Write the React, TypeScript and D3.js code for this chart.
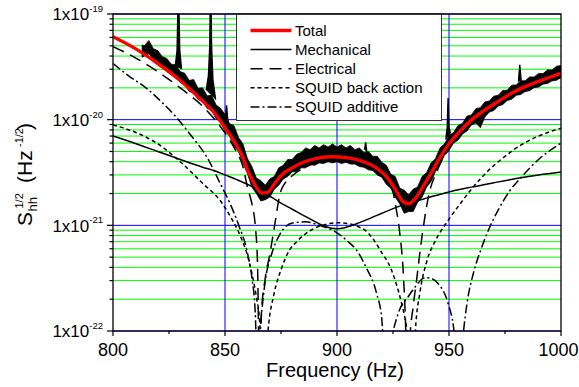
import React from "react";
import * as d3 from "d3";

const FONT = "'Liberation Sans', Arial, Helvetica, sans-serif";
const UNIT = 1e-21; // all values below are in units of 1e-21 Hz^-1/2

// Total (fit)
const totalF = [800, 810, 820, 830, 840, 845, 850, 855, 858, 860, 862, 864, 866.5, 869, 872, 875.3, 880, 885, 890, 897, 905, 912, 918, 922, 926, 929, 932, 935, 938, 940, 942, 944, 946, 948, 950, 955, 960, 970, 980, 990, 1000];
const totalV = [61, 47, 34, 23.5, 15, 11.8, 8.4, 5.8, 4.4, 3.35, 2.75, 2.3, 2.02, 2.05, 2.45, 3.0, 3.5, 3.95, 4.25, 4.45, 4.35, 4.0, 3.45, 2.9, 2.2, 1.72, 1.6, 1.8, 2.25, 2.65, 3.1, 3.7, 4.4, 5.1, 5.9, 7.8, 9.9, 14, 18.8, 23, 27.5];

// Mechanical
const mechF = [800, 810, 820, 830, 840, 846, 850, 855, 860, 865, 868, 872, 876, 880, 885, 890, 894, 897, 900, 903, 906, 910, 915, 920, 925, 930, 935, 940, 950, 960, 970, 980, 990, 1000];
const mechV = [7.0, 5.95, 5.0, 4.2, 3.55, 3.25, 3.0, 2.72, 2.45, 2.17, 2.0, 1.78, 1.58, 1.42, 1.24, 1.09, 0.99, 0.945, 0.93, 0.945, 0.985, 1.06, 1.17, 1.3, 1.44, 1.57, 1.69, 1.81, 2.07, 2.3, 2.53, 2.77, 3.0, 3.2];

// Electrical
const elecF = [800, 810, 820, 830, 840, 845, 850, 855, 858, 860, 862, 863.5, 864.5, 865.3, 866.2, 868, 870, 872, 874.6, 877, 880, 885, 890, 895, 900, 905, 910, 915, 920, 924, 926, 928, 929.5, 930.7, 931.5, 932.5, 934, 935.5, 937, 938.5, 940.8, 945, 950, 955, 960, 970, 980, 990, 1000];
const elecV = [49, 38.5, 28.5, 20, 13.4, 10.3, 7.5, 5.0, 3.6, 2.3, 1.6, 1.0, 0.45, 0.05, 0.14, 0.32, 0.53, 0.95, 2.0, 2.55, 2.95, 3.5, 3.87, 4.05, 4.12, 4.05, 3.85, 3.5, 3.0, 2.5, 1.6, 0.85, 0.38, 0.1, 0.02, 0.08, 0.17, 0.3, 0.55, 0.95, 1.86, 3.4, 5.4, 7.4, 9.3, 13.1, 17.6, 21.3, 25.2];

// SQUID back action
const baF = [800, 810, 820, 830, 840, 848, 853, 857, 860, 862, 864, 865.5, 867, 869.2, 872, 875, 878.7, 882, 886.2, 890, 895, 900, 905, 910, 912.5, 916, 920, 922.9, 926, 928.9, 931, 932.5, 933.7, 935, 937, 940, 944, 949.7, 955, 960, 967.6, 975, 983, 990, 1000];
const baV = [8.9, 7.6, 5.9, 4.0, 2.5, 1.7, 1.15, 0.78, 0.52, 0.35, 0.21, 0.12, 0.02, 0.1, 0.23, 0.38, 0.58, 0.7, 0.84, 0.94, 1.02, 1.06, 1.04, 0.96, 0.9, 0.75, 0.55, 0.44, 0.3, 0.18, 0.11, 0.06, 0.02, 0.1, 0.23, 0.45, 0.72, 1.12, 1.6, 2.2, 3.3, 4.5, 5.9, 7.0, 8.3];

// SQUID additive
const addF = [800, 807, 815, 822, 828, 835, 842, 848, 852, 856, 860, 862, 863.5, 864.5, 866, 868, 871, 874.6, 880, 886, 892, 900, 905, 908.8, 913, 917.7, 920, 921.5, 923, 925, 928, 931.7, 934.8, 939.3, 942, 945.2, 949.7, 952, 954.5, 956.5, 958, 961, 964, 967.6, 972, 977, 982.4, 990, 1000];
const addV = [34, 26, 19.8, 14.5, 10.7, 7.0, 4.4, 2.45, 1.65, 1.02, 0.55, 0.32, 0.15, 0.04, 0.12, 0.3, 0.55, 0.83, 1.05, 1.08, 1.0, 0.85, 0.7, 0.58, 0.4, 0.226, 0.13, 0.04, 0.07, 0.1, 0.16, 0.21, 0.26, 0.32, 0.315, 0.28, 0.18, 0.11, 0.03, 0.1, 0.18, 0.36, 0.57, 0.9, 1.4, 2.1, 2.88, 4.2, 6.0];

// Measured spectrum: upper / lower envelope of the noisy trace
const measF = [813, 814, 816, 818, 820, 822, 824, 826, 828, 830, 832, 834, 836, 838, 840, 842, 844, 846, 848, 850, 852, 854, 856, 858, 860, 862, 864, 866, 868, 870, 872, 874, 876, 878, 880, 882, 884, 886, 888, 890, 892, 894, 896, 898, 900, 902, 904, 906, 908, 910, 912, 914, 916, 918, 920, 922, 924, 926, 928, 930, 932, 934, 936, 938, 940, 942, 944, 946, 948, 950, 952, 954, 956, 958, 960, 962, 964, 966, 968, 970, 972, 974, 976, 978, 980, 982, 984, 986, 988, 990, 992, 994, 996, 998, 1000];
const measHi = [51, 50, 56, 47, 45, 39.5, 38, 33.5, 33, 28.5, 27.5, 23.5, 24, 19.8, 20, 16.8, 17, 13.8, 12.8, 11.2, 9.2, 8.8, 6.8, 5.9, 4.3, 3.6, 2.8, 2.65, 2.4, 2.75, 2.9, 3.5, 3.7, 4.2, 4.2, 4.7, 4.9, 5.4, 5.2, 5.7, 5.4, 5.8, 5.5, 5.9, 5.5, 5.8, 5.4, 5.7, 5.2, 5.4, 4.9, 5.0, 4.5, 4.5, 3.95, 3.7, 3.05, 2.9, 2.25, 2.15, 1.95, 2.2, 2.3, 2.9, 3.15, 3.9, 4.3, 5.4, 5.9, 7.1, 7.5, 8.8, 9.2, 10.8, 11.1, 12.7, 13, 14.7, 15, 16.7, 17, 18.9, 19, 21.2, 21.3, 23.4, 23.3, 25.4, 25.3, 27.4, 27.3, 29.6, 29.5, 32, 32.5];
const measLo = [39, 40, 42, 38, 35.5, 31, 30.5, 26.5, 25.5, 22.5, 21.5, 18.5, 18, 15.5, 15, 12.8, 12.3, 10.2, 9.5, 7.8, 7.0, 5.7, 5.0, 3.9, 3.1, 2.3, 2.0, 1.7, 1.75, 1.85, 2.2, 2.4, 2.75, 2.9, 3.2, 3.25, 3.5, 3.5, 3.75, 3.7, 3.9, 3.85, 4.0, 3.9, 4.0, 3.85, 3.95, 3.8, 3.8, 3.6, 3.55, 3.35, 3.3, 3.0, 2.85, 2.45, 2.25, 1.85, 1.6, 1.3, 1.35, 1.35, 1.65, 1.85, 2.3, 2.6, 3.25, 3.8, 4.6, 5.1, 6.0, 6.4, 7.3, 7.8, 8.9, 9.3, 8.4, 10.6, 11.8, 12.2, 13.5, 13.9, 15.2, 15.6, 17, 17.3, 18.5, 18.8, 20.1, 20.4, 21.7, 22, 23.3, 23.6, 25];

// Narrow lines (spikes) in the measured spectrum: [frequency, value]
const spike829: [number, number][] = [[827.8, 32], [828.6, 45], [829.0, 120], [829.2, 300], [829.4, 120], [829.8, 45], [830.6, 30]];
const spike844: [number, number][] = [[841.6, 19], [842.6, 26], [843.2, 50], [843.6, 300], [844.0, 50], [844.6, 24], [845.8, 15.5]];
const spike851: [number, number][] = [[850.1, 10.5], [850.7, 13.7], [851.3, 9.5]];
const spike913: [number, number][] = [[912.3, 5.2], [912.8, 6.1], [913.3, 5.0]];
const spike950: [number, number][] = [[948.6, 6.5], [949.2, 8.5], [949.6, 16], [950.0, 8.5], [950.6, 7.4]];
const spike982: [number, number][] = [[981.0, 23], [981.6, 33], [982.2, 23.5]];
const spikes = [spike829, spike844, spike851, spike913, spike950, spike982];

const xTicks = [800, 850, 900, 950, 1000];
const xMinor = [825, 875, 925, 975];
const yDecades = [-19, -20, -21, -22];

const legendLabels = ["Total", "Mechanical", "Electrical", "SQUID back action", "SQUID additive"];

export default function App() {
  const W = 579, H = 387;
  const L = 113, R = 561, T = 14, B = 331;
  const x = d3.scaleLinear().domain([800, 1000]).range([L, R]);
  const y = d3.scaleLog().domain([1e-22, 1e-19]).range([B, T]);

  const mk = (fs: number[], vs: number[]) =>
    d3.line<number>().x((_, i) => x(fs[i])).y((v) => y(v * UNIT)).curve(d3.curveMonotoneX)(vs) || "";

  const area = d3
    .area<number>()
    .x((_, i) => x(measF[i]))
    .y0((_, i) => y(measLo[i] * UNIT))
    .y1((v) => y(v * UNIT))(measHi) || "";

  const spikeLine = d3.line<[number, number]>().x((d) => x(d[0])).y((d) => y(d[1] * UNIT));

  const yTicks = y.ticks();
  const isDecade = (t: number) => Math.abs(Math.log10(t) - Math.round(Math.log10(t))) < 1e-6;

  const series = [
    { label: legendLabels[0], color: "#ff0000", width: 3.4, dash: "" },
    { label: legendLabels[1], color: "#000", width: 1.5, dash: "" },
    { label: legendLabels[2], color: "#000", width: 1.5, dash: "12,7" },
    { label: legendLabels[3], color: "#000", width: 1.5, dash: "4,3" },
    { label: legendLabels[4], color: "#000", width: 1.5, dash: "9,3,2,3" },
  ];

  const legX = 236.5, legY = 14, legW = 205, legH = 106.5;

  return (
    <div style={{ position: "absolute", left: 0, top: 0 }}>
      <svg width={W} height={H} style={{ display: "block", background: "#fff" }} fontFamily={FONT}>
        <defs>
          <clipPath id="plotClip">
            <rect x={L} y={T} width={R - L} height={B - T} />
          </clipPath>
        </defs>
        <rect x={0} y={0} width={W} height={H} fill="#fff" />

        {/* grid */}
        <g>
          {yTicks.filter((t) => !isDecade(t)).map((t, i) => (
            <line key={"g" + i} x1={L} x2={R} y1={y(t)} y2={y(t)} stroke="#00ff00" strokeWidth={1} />
          ))}
          {yTicks.filter((t) => isDecade(t)).map((t, i) => (
            <line key={"b" + i} x1={L} x2={R} y1={y(t)} y2={y(t)} stroke="#0000ff" strokeWidth={1} />
          ))}
          {xTicks.slice(1, -1).map((t) => (
            <line key={"v" + t} x1={x(t)} x2={x(t)} y1={T} y2={B} stroke="#0000ff" strokeWidth={1} />
          ))}
        </g>

        {/* curves */}
        <g clipPath="url(#plotClip)" fill="none">
          <path d={mk(mechF, mechV)} stroke="#000" strokeWidth={1.5} />
          <path d={mk(elecF, elecV)} stroke="#000" strokeWidth={1.5} strokeDasharray="12,7" />
          <path d={mk(baF, baV)} stroke="#000" strokeWidth={1.5} strokeDasharray="4,3" />
          <path d={mk(addF, addV)} stroke="#000" strokeWidth={1.5} strokeDasharray="9,3,2,3" />
          <path d={area} fill="#000" stroke="#000" strokeWidth={0.8} />
          {spikes.map((s, i) => (
            <path key={"s" + i} d={spikeLine(s) || ""} fill="#000" stroke="#000" strokeWidth={1.4} />
          ))}
          <path d={mk(totalF, totalV)} stroke="#ff0000" strokeWidth={3.4} />
        </g>

        {/* legend */}
        <g>
          <rect x={legX} y={legY} width={legW} height={legH} fill="#fff" stroke="#333" strokeWidth={1} />
          {series.map((s, i) => {
            const base = 35.7 + i * 19.1;
            return (
              <g key={"l" + i}>
                <line x1={250.5} x2={291.5} y1={base - 5.2} y2={base - 5.2} stroke={s.color} strokeWidth={s.width} strokeDasharray={s.dash || undefined} />
                <text x={295} y={base} fontSize={15} fill="#000">{s.label}</text>
              </g>
            );
          })}
        </g>

        {/* frame */}
        <rect x={L} y={T} width={R - L} height={B - T} fill="none" stroke="#000" strokeWidth={1.3} />

        {/* y ticks */}
        {yTicks.map((t, i) => (
          <line key={"yt" + i} x1={isDecade(t) ? L - 6 : L - 3.5} x2={L} y1={y(t)} y2={y(t)} stroke="#000" strokeWidth={1.2} />
        ))}
        {yDecades.map((e) => (
          <text key={"yl" + e} x={103} y={y(Math.pow(10, e)) + 6.4} fontSize={17} textAnchor="end" fill="#000">
            1x10<tspan dy={-8.4} fontSize={9.5}>{String(e)}</tspan>
          </text>
        ))}

        {/* x ticks */}
        {xTicks.map((t) => (
          <line key={"xt" + t} x1={x(t)} x2={x(t)} y1={B} y2={B + 5} stroke="#000" strokeWidth={1.2} />
        ))}
        {xMinor.map((t) => (
          <line key={"xm" + t} x1={x(t)} x2={x(t)} y1={B} y2={B + 3} stroke="#000" strokeWidth={1.2} />
        ))}
        {xTicks.map((t, i) => {
          const last = i === xTicks.length - 1;
          return (
            <text key={"xl" + t} x={last ? W - 0.5 : x(t)} y={356} fontSize={18} textAnchor={last ? "end" : "middle"} fill="#000">{t}</text>
          );
        })}

        {/* axis titles */}
        <text x={335} y={377} fontSize={20} textAnchor="middle" fill="#000">Frequency (Hz)</text>
        <g transform="translate(31.5,226) rotate(-90)" fill="#000">
          <text x={0} y={0} fontSize={21}>S</text>
          <text x={17.5} y={-8.5} fontSize={11}>1/2</text>
          <text x={14.5} y={5} fontSize={13}>hh</text>
          <text x={43} y={0} fontSize={21}>(Hz</text>
          <text x={79} y={-8.5} fontSize={11}>-1/2</text>
          <text x={96} y={0} fontSize={21}>)</text>
        </g>
      </svg>
    </div>
  );
}
